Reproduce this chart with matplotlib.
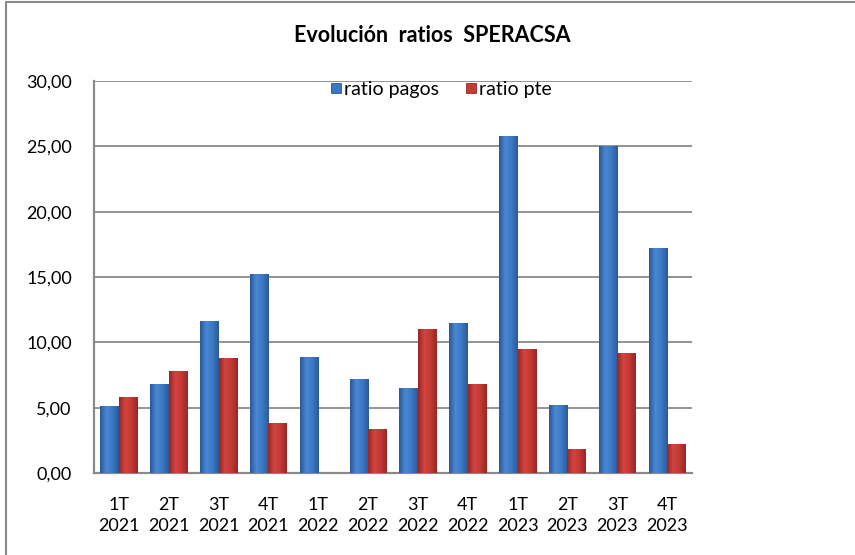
import matplotlib
matplotlib.use("Agg")
import matplotlib.pyplot as plt
import numpy as np
from matplotlib.lines import Line2D
from matplotlib.colors import LinearSegmentedColormap

categories = ["1T\n2021", "2T\n2021", "3T\n2021", "4T\n2021",
              "1T\n2022", "2T\n2022", "3T\n2022", "4T\n2022",
              "1T\n2023", "2T\n2023", "3T\n2023", "4T\n2023"]
ratio_pagos = [5.1, 6.8, 11.6, 15.2, 8.9, 7.2, 6.5, 11.5, 25.8, 5.2, 25.0, 17.2]
ratio_pte = [5.8, 7.8, 8.8, 3.8, 0.0, 3.4, 11.0, 6.8, 9.5, 1.8, 9.2, 2.2]
y_ticks = [0, 5, 10, 15, 20, 25, 30]

plt.rcParams['font.family'] = ['Lato', 'DejaVu Sans']

W, H = 855, 555
fig = plt.figure(figsize=(W/100, H/100), dpi=100)
# outer frame: only top and left edges are visible in the reference
fig.lines.append(Line2D([6/W, 6/W, 1.0], [0.0, 1-2/H, 1-2/H], transform=fig.transFigure,
                        color='#8a8a8a', linewidth=1.5))

left, right, top, bottom = 94, 692, 81, 473
ax = fig.add_axes([left/W, 1-bottom/H, (right-left)/W, (bottom-top)/H])

x = np.arange(len(categories))
w = 0.37
b1 = ax.bar(x - w/2, ratio_pagos, w, color='#3a78c6', edgecolor='none',
            label='ratio pagos', zorder=3)
b2 = ax.bar(x + w/2, ratio_pte, w, color='#c73a36', edgecolor='none',
            label='ratio pte', zorder=3)

cm_blue = LinearSegmentedColormap.from_list('b', ['#2a5896', '#4a88d4', '#3c78c4', '#2b5a98'])
cm_red = LinearSegmentedColormap.from_list('r', ['#962624', '#d4443f', '#c23834', '#982725'])
grad = np.linspace(0, 1, 64).reshape(1, -1)
for bars, cm in ((b1, cm_blue), (b2, cm_red)):
    for p in bars:
        h = p.get_height()
        if h <= 0:
            continue
        x0 = p.get_x()
        bw = p.get_width()
        im = ax.imshow(grad, cmap=cm, extent=[x0, x0 + bw, 0, h], aspect='auto',
                       zorder=3.5, interpolation='bilinear')
        im.set_clip_path(p)

ax.set_xlim(-0.5, len(categories) - 0.5)
ax.set_ylim(0, 30)
ax.set_yticks(y_ticks)
ax.set_yticklabels([f"{v:.2f}".replace('.', ',') for v in y_ticks], fontsize=13)
ax.set_xticks(x)
ax.set_xticklabels(categories, fontsize=13, linespacing=1.45)
ax.tick_params(axis='y', length=0, pad=16)
ax.tick_params(axis='x', length=0, pad=17)
ax.yaxis.grid(True, color='#8a8a8a', linewidth=1.3, zorder=0)
for s in ['top', 'right']:
    ax.spines[s].set_visible(False)
ax.spines['left'].set_color('#8a8a8a')
ax.spines['left'].set_linewidth(1.6)
ax.spines['bottom'].set_color('#8a8a8a')
ax.spines['bottom'].set_linewidth(1.6)

h1 = Line2D([], [], linestyle='none', marker='s', markersize=6.5,
            markerfacecolor='#3a78c6', markeredgecolor='#2a5896', markeredgewidth=0.6)
h2 = Line2D([], [], linestyle='none', marker='s', markersize=6.5,
            markerfacecolor='#c73a36', markeredgecolor='#962624', markeredgewidth=0.6)
leg = fig.legend(handles=[h1, h2], labels=['ratio pagos', 'ratio pte'],
                 loc='center left', bbox_to_anchor=(331/W, 1-89/H),
                 ncol=2, frameon=False, fontsize=14, handlelength=0.5,
                 handletextpad=0.15, columnspacing=1.4, borderpad=0, borderaxespad=0)

fig.text(432/W, 1-36/H, "Evolución  ratios  SPERACSA", ha='center', va='center',
         fontsize=15.5, fontweight='bold')

fig.savefig("out.png", dpi=100)
